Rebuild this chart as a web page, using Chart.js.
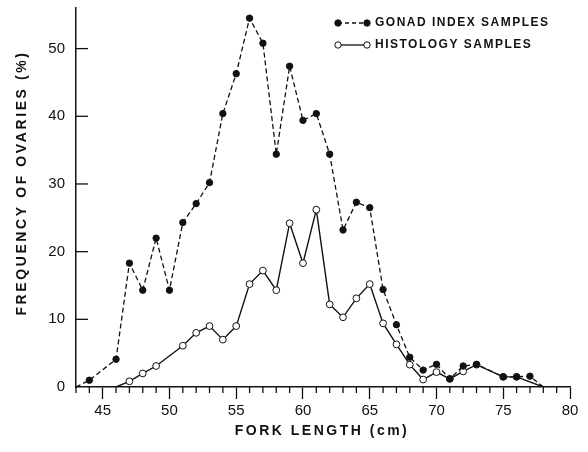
<!DOCTYPE html>
<html>
<head>
<meta charset="utf-8">
<script src="https://cdn.jsdelivr.net/npm/chart.js@4/dist/chart.umd.min.js"></script>
<style>
  html, body { margin: 0; padding: 0; background: #fff; }
  canvas { display: block; }
</style>
</head>
<body>
<canvas id="ovaryChart" width="588" height="452"></canvas>
<script>
// Fork length (cm) and frequency of ovaries (%)
const gonadLength = [43, 44, 46, 47, 48, 49, 50, 51, 52, 53, 54, 55, 56, 57, 58, 59, 60, 61, 62, 63,
  64, 65, 66, 67, 68, 69, 70, 71, 72, 73, 75, 76, 77, 78];
const gonadFreq = [0, 1.0, 4.1, 18.3, 14.3, 22.0, 14.3, 24.3, 27.1, 30.2, 40.4, 46.3, 54.5, 50.8, 34.4, 47.4,
  39.4, 40.4, 34.4, 23.2, 27.3, 26.5, 14.4, 9.2, 4.4, 2.5, 3.35, 1.2, 3.1, 3.35, 1.5, 1.5, 1.6, 0];

const histLength = [46, 47, 48, 49, 51, 52, 53, 54, 55, 56, 57, 58, 59, 60, 61, 62, 63, 64, 65, 66,
  67, 68, 69, 70, 71, 72, 73, 75, 76, 78];
const histFreq = [0, 0.84, 2.0, 3.1, 6.1, 8.0, 9.0, 7.0, 9.0, 15.2, 17.2, 14.3, 24.2, 18.3, 26.2, 12.2,
  10.3, 13.1, 15.2, 9.4, 6.3, 3.3, 1.1, 2.2, 1.2, 2.3, 3.3, 1.5, 1.5, 0];

const xTickValues = [45, 50, 55, 60, 65, 70, 75, 80];
const yTickValues = [0, 10, 20, 30, 40, 50];
const seriesNames = ['GONAD INDEX SAMPLES', 'HISTOLOGY SAMPLES'];

const ink = '#111';
const toPoints = (xs, ys) => xs.map((x, i) => ({ x: x, y: ys[i] }));
// points that sit on the zero line at the ends carry no marker
const radii = (ys, r) => ys.map((v, i) => (v === 0 && (i === 0 || i === ys.length - 1)) ? 0 : r);

// ticks, axis titles and the legend drawn the way the paper figure has them
const paperPlugin = {
  id: 'paper',
  afterDraw(chart) {
    const { ctx, chartArea, scales: { x, y } } = chart;
    ctx.save();
    ctx.strokeStyle = ink;
    ctx.lineWidth = 1.3;

    // y ticks point inward
    yTickValues.forEach(v => {
      if (v === 0) return;
      const py = y.getPixelForValue(v);
      ctx.beginPath();
      ctx.moveTo(chartArea.left, py);
      ctx.lineTo(chartArea.left + 12, py);
      ctx.stroke();
    });

    // minor x ticks every 1 cm
    for (let v = Math.ceil(x.min); v <= x.max; v++) {
      if (v % 5 === 0) continue;
      const px = x.getPixelForValue(v);
      ctx.beginPath();
      ctx.moveTo(px, chartArea.bottom);
      ctx.lineTo(px, chartArea.bottom + 6);
      ctx.stroke();
    }

    // axis titles
    ctx.fillStyle = ink;
    ctx.textAlign = 'center';
    ctx.textBaseline = 'middle';
    ctx.font = 'bold 14px "Liberation Sans", Arial, sans-serif';
    ctx.letterSpacing = '2.5px';
    ctx.fillText('FORK LENGTH (cm)', 322, 431);

    ctx.save();
    ctx.translate(22, 183);
    ctx.rotate(-Math.PI / 2);
    ctx.letterSpacing = '2.6px';
    ctx.fillText('FREQUENCY OF OVARIES (%)', 0, 0);
    ctx.restore();

    // legend
    const rows = [
      { y: 23, dash: [4, 3], filled: true },
      { y: 45, dash: [], filled: false }
    ];
    ctx.font = 'bold 12px "Liberation Sans", Arial, sans-serif';
    ctx.letterSpacing = '1.5px';
    ctx.textAlign = 'left';
    rows.forEach((row, i) => {
      ctx.setLineDash(row.dash);
      ctx.lineWidth = 1.3;
      ctx.beginPath();
      ctx.moveTo(338, row.y);
      ctx.lineTo(367, row.y);
      ctx.stroke();
      ctx.setLineDash([]);
      [338, 367].forEach(cx => {
        ctx.beginPath();
        ctx.arc(cx, row.y, 3.2, 0, Math.PI * 2);
        ctx.fillStyle = row.filled ? ink : '#fff';
        ctx.fill();
        ctx.lineWidth = 1;
        ctx.stroke();
      });
      ctx.fillStyle = ink;
      ctx.fillText(seriesNames[i], 375, row.y);
    });
    ctx.restore();
  }
};

const ovaryCtx = document.getElementById('ovaryChart').getContext('2d');
const ovaryChart = new Chart(ovaryCtx, {
  type: 'line',
  data: {
    datasets: [{
      label: seriesNames[0],
      data: toPoints(gonadLength, gonadFreq),
      borderColor: ink,
      borderWidth: 1.3,
      borderDash: [5, 3],
      pointRadius: radii(gonadFreq, 3.2),
      pointBackgroundColor: ink,
      pointBorderColor: ink,
      pointBorderWidth: 1,
      tension: 0
    }, {
      label: seriesNames[1],
      data: toPoints(histLength, histFreq),
      borderColor: ink,
      borderWidth: 1.4,
      pointRadius: radii(histFreq, 3.4),
      pointBackgroundColor: '#fff',
      pointBorderColor: ink,
      pointBorderWidth: 1,
      tension: 0
    }]
  },
  options: {
    responsive: false,
    animation: false,
    layout: {
      padding: { left: 0, right: 18, top: 8, bottom: 0 }
    },
    plugins: {
      legend: { display: false },
      tooltip: { enabled: false }
    },
    scales: {
      x: {
        type: 'linear',
        min: 43,
        max: 80,
        afterFit: s => { s.height = 65; },
        afterBuildTicks: s => { s.ticks = xTickValues.map(v => ({ value: v })); },
        border: { display: true, color: ink, width: 1.5 },
        grid: { drawOnChartArea: false, drawTicks: true, tickLength: 12, tickColor: ink, tickWidth: 1.3 },
        ticks: {
          color: ink,
          padding: 3,
          maxRotation: 0,
          font: { family: '"Liberation Sans", Arial, sans-serif', size: 15 }
        }
      },
      y: {
        min: 0,
        max: 56,
        afterFit: s => { s.width = 76; s.paddingTop = 0; s.paddingBottom = 0; },
        afterBuildTicks: s => { s.ticks = yTickValues.map(v => ({ value: v })); },
        border: { display: true, color: ink, width: 1.5 },
        grid: { drawOnChartArea: false, drawTicks: false },
        ticks: {
          color: ink,
          padding: 11,
          font: { family: '"Liberation Sans", Arial, sans-serif', size: 15 }
        }
      }
    }
  },
  plugins: [paperPlugin]
});
</script>
</body>
</html>
